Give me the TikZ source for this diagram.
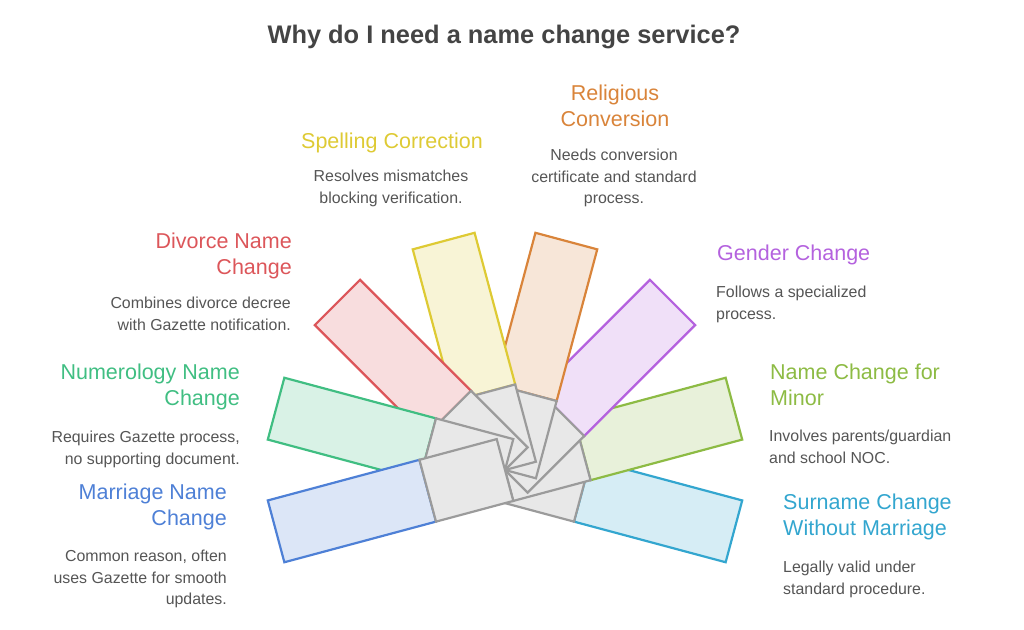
\documentclass[tikz,border=0pt]{standalone}
\usepackage{fontspec}
\setmainfont{Liberation Sans}
\definecolor{titlegray}{RGB}{68,68,68}
\definecolor{bodygray}{RGB}{85,85,85}
\definecolor{hubline}{RGB}{155,155,155}
\definecolor{hubfill}{RGB}{232,232,232}
\definecolor{surnamecol}{RGB}{51,166,207}
\definecolor{minorcol}{RGB}{141,187,68}
\definecolor{gendercol}{RGB}{180,98,222}
\definecolor{religcol}{RGB}{217,132,58}
\definecolor{spellcol}{RGB}{222,202,52}
\definecolor{divorcecol}{RGB}{220,86,90}
\definecolor{numercol}{RGB}{64,190,130}
\definecolor{marriagecol}{RGB}{78,128,214}
\begin{document}
\begin{tikzpicture}[x=1pt,y=1pt,
  blade/.style={draw=#1,fill=#1!20!white,line width=2.2pt},
  hub/.style={draw=hubline,fill=hubfill,line width=2.2pt},
  head/.style={text=#1,inner sep=0pt,font=\fontsize{21.5}{26}\selectfont},
  info/.style={text=bodygray,inner sep=0pt,font=\fontsize{15.9}{21.5}\selectfont}]
\useasboundingbox (0,0) rectangle (1024,-629);
\coordinate (pivot) at (505,-470);
\begin{scope}[shift={(pivot)},rotate=-15]
\draw[blade=surnamecol] (80,-32) rectangle (237,32);
\draw[hub] (0,-32) rectangle (80,32);
\end{scope}
\begin{scope}[shift={(pivot)},rotate=15]
\draw[blade=minorcol] (80,-32) rectangle (237,32);
\draw[hub] (0,-32) rectangle (80,32);
\end{scope}
\begin{scope}[shift={(pivot)},rotate=45]
\draw[blade=gendercol] (80,-32) rectangle (237,32);
\draw[hub] (0,-32) rectangle (80,32);
\end{scope}
\begin{scope}[shift={(pivot)},rotate=75]
\draw[blade=religcol] (80,-32) rectangle (237,32);
\draw[hub] (0,-32) rectangle (80,32);
\end{scope}
\begin{scope}[shift={(pivot)},rotate=105]
\draw[blade=spellcol] (80,-32) rectangle (237,32);
\draw[hub] (0,-32) rectangle (80,32);
\end{scope}
\begin{scope}[shift={(pivot)},rotate=135]
\draw[blade=divorcecol] (80,-32) rectangle (237,32);
\draw[hub] (0,-32) rectangle (80,32);
\end{scope}
\begin{scope}[shift={(pivot)},rotate=165]
\draw[blade=numercol] (80,-32) rectangle (237,32);
\draw[hub] (0,-32) rectangle (80,32);
\end{scope}
\begin{scope}[shift={(pivot)},rotate=195]
\draw[blade=marriagecol] (80,-32) rectangle (237,32);
\draw[hub] (0,-32) rectangle (80,32);
\end{scope}
\node[text=titlegray,font=\bfseries\fontsize{25.4}{30}\selectfont] (title) at (504,-37) {Why do I need a name change service?};
\node[head=religcol,anchor=north,align=center] (religHead) at (615,-85) {Religious\\Conversion};
\node[info,anchor=north,align=center] (religText) at (614,-149) {Needs conversion\\certificate and standard\\process.};
\node[head=spellcol,anchor=north,align=center] (spellHead) at (392,-133) {Spelling Correction};
\node[info,anchor=north,align=center] (spellText) at (391,-170) {Resolves mismatches\\blocking verification.};
\node[head=divorcecol,anchor=north east,align=right] (divorceHead) at (292,-233) {Divorce Name\\Change};
\node[info,anchor=north east,align=right] (divorceText) at (291,-297) {Combines divorce decree\\with Gazette notification.};
\node[head=gendercol,anchor=north west,align=left] (genderHead) at (717,-245) {Gender Change};
\node[info,anchor=north west,align=left] (genderText) at (716,-286) {Follows a specialized\\process.};
\node[head=numercol,anchor=north east,align=right] (numerHead) at (240,-364) {Numerology Name\\Change};
\node[info,anchor=north east,align=right] (numerText) at (240,-431) {Requires Gazette process,\\no supporting document.};
\node[head=minorcol,anchor=north west,align=left] (minorHead) at (770,-364) {Name Change for\\Minor};
\node[info,anchor=north west,align=left] (minorText) at (769,-430) {Involves parents/guardian\\and school NOC.};
\node[head=marriagecol,anchor=north east,align=right] (marriageHead) at (227,-484) {Marriage Name\\Change};
\node[info,anchor=north east,align=right] (marriageText) at (227,-550) {Common reason, often\\uses Gazette for smooth\\updates.};
\node[head=surnamecol,anchor=north west,align=left] (surnameHead) at (783,-494) {Surname Change\\Without Marriage};
\node[info,anchor=north west,align=left] (surnameText) at (783,-561) {Legally valid under\\standard procedure.};
\end{tikzpicture}
\end{document}
